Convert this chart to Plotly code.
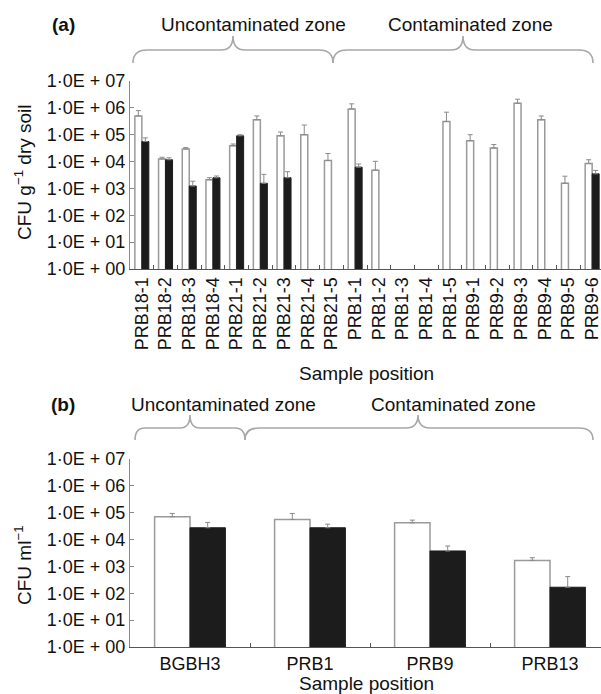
import plotly.graph_objects as go

W, H = 601, 694

# ---------------- data: panel (a) ----------------
samples_a = ["PRB18-1", "PRB18-2", "PRB18-3", "PRB18-4", "PRB21-1", "PRB21-2",
             "PRB21-3", "PRB21-4", "PRB21-5", "PRB1-1", "PRB1-2", "PRB1-3",
             "PRB1-4", "PRB1-5", "PRB9-1", "PRB9-2", "PRB9-3", "PRB9-4",
             "PRB9-5", "PRB9-6"]
white_a = [5.0e5, 1.26e4, 2.95e4, 2.1e3, 3.9e4, 3.6e5, 9.1e4, 1.0e5, 1.1e4,
           9.1e5, 4.8e3, None, None, 3.1e5, 6.0e4, 3.2e4, 1.48e6, 3.6e5,
           1.55e3, 8.5e3]
white_a_err = [2.9e5, 1.9e3, 3.6e3, 4e2, 6e3, 1.4e5, 3.5e4, 1.3e5, 9e3,
               5e5, 5.4e3, None, None, 3.8e5, 4e4, 1.1e4, 6.2e5, 1.4e5,
               1.3e3, 3.2e3]
black_a = [5.6e4, 1.17e4, 1.23e3, 2.5e3, 9.1e4, 1.55e3, 2.5e3, None, None,
           6.2e3, None, None, None, None, None, None, None, None, None, 3.5e3]
black_a_err = [2.0e4, 2.1e3, 6.3e2, 4e2, 9e3, 1.8e3, 1.7e3, None, None,
               1.9e3, None, None, None, None, None, None, None, None, None, 1.2e3]

# ---------------- data: panel (b) ----------------
samples_b = ["BGBH3", "PRB1", "PRB9", "PRB13"]
white_b = [7.1e4, 5.6e4, 4.2e4, 1.68e3]
white_b_err = [2.3e4, 3.8e4, 1.1e4, 4.3e2]
black_b = [2.75e4, 2.75e4, 3.76e3, 1.68e2]
black_b_err = [1.6e4, 1.0e4, 2.0e3, 2.5e2]

tick_vals = [1, 1e1, 1e2, 1e3, 1e4, 1e5, 1e6, 1e7]
tick_text = ["1·0E + 00", "1·0E + 01", "1·0E + 02", "1·0E + 03",
             "1·0E + 04", "1·0E + 05", "1·0E + 06", "1·0E + 07"]

FONT = "Liberation Sans, Arial, Helvetica, sans-serif"
WHITE_LINE = "#9a9a9a"
BLACK = "#1c1c1c"


def err(arr):
    return dict(type="data", symmetric=False, array=arr,
                arrayminus=[0] * len(arr), color="#8a8a8a",
                thickness=1, width=2.5)


fig = go.Figure()
fig.add_trace(go.Bar(x=samples_a, y=white_a, error_y=err(white_a_err),
                     marker=dict(color="white", line=dict(color=WHITE_LINE, width=1.5)),
                     xaxis="x", yaxis="y"))
fig.add_trace(go.Bar(x=samples_a, y=black_a, error_y=err(black_a_err),
                     marker=dict(color=BLACK, line=dict(color=BLACK, width=1)),
                     xaxis="x", yaxis="y"))
fig.add_trace(go.Bar(x=samples_b, y=white_b, error_y=err(white_b_err),
                     marker=dict(color="white", line=dict(color=WHITE_LINE, width=1.5)),
                     xaxis="x2", yaxis="y2"))
fig.add_trace(go.Bar(x=samples_b, y=black_b, error_y=err(black_b_err),
                     marker=dict(color=BLACK, line=dict(color=BLACK, width=1)),
                     xaxis="x2", yaxis="y2"))


def py(y):
    return 1 - y / H


def px(x):
    return x / W


x_left = 130
n_a = len(samples_a)
cw_a = 23.7
cw_b = 120.0
xa_range = [-0.5, n_a - 0.5 - (x_left + n_a * cw_a - W) / cw_a]
xb_range = [-0.5, len(samples_b) - 0.5 - (x_left + len(samples_b) * cw_b - W) / cw_b]

common_x = dict(type="category", tickson="boundaries", ticks="inside", ticklen=4,
                tickcolor="#555", showline=True, linecolor="#555", linewidth=1.2,
                showgrid=False, zeroline=False, automargin=False,
                tickfont=dict(size=18, color="#111"))
common_y = dict(type="log", range=[0, 7], tickvals=tick_vals, ticktext=tick_text,
                ticks="inside", ticklen=4, tickcolor="#888", showline=True,
                linecolor="#888", linewidth=1.2, showgrid=False, zeroline=False,
                automargin=False, tickfont=dict(size=18, color="#111"))

fig.update_layout(
    width=W, height=H, margin=dict(l=0, r=0, t=0, b=0, pad=0, autoexpand=False),
    plot_bgcolor="white", paper_bgcolor="white", showlegend=False,
    barmode="group", bargap=0.41, bargroupgap=0,
    font=dict(family=FONT, size=18, color="#111"),
    xaxis=dict(domain=[px(x_left), 1], range=xa_range, anchor="y",
               tickangle=-90, **common_x),
    yaxis=dict(domain=[py(269), py(81)], anchor="x", **common_y),
    xaxis2=dict(domain=[px(x_left), 1], range=xb_range, anchor="y2", **common_x),
    yaxis2=dict(domain=[py(647), py(459)], anchor="x2", **common_y),
)


def ann(x, y, text, size=18, angle=0, bold=False):
    if bold:
        text = "<b>" + text + "</b>"
    return dict(xref="paper", yref="paper", x=px(x), y=py(y), text=text,
                showarrow=False, xanchor="center", yanchor="middle",
                textangle=angle, font=dict(size=size, family=FONT, color="#111"))


annotations = [
    ann(63, 25, "(a)", 19, bold=True),
    ann(253, 25, "Uncontaminated zone", 19),
    ann(470, 25, "Contaminated zone", 19),
    ann(366, 373, "Sample position", 19),
    ann(23, 172, "CFU g<sup>−1</sup> dry soil", 19, angle=-90),
    ann(63, 404, "(b)", 19, bold=True),
    ann(223, 404, "Uncontaminated zone", 19),
    ann(453, 404, "Contaminated zone", 19),
    ann(366, 683, "Sample position", 19),
    ann(23, 565, "CFU ml<sup>−1</sup>", 19, angle=-90),
]


def brace(x0, x1, xt, y_end, y_h, y_tip, r=14, rt=12):
    def p(x, y):
        return f"{px(x):.5f},{py(y):.5f}"
    path = (f"M {p(x0, y_end)} Q {p(x0, y_h)} {p(x0 + r, y_h)} "
            f"L {p(xt - rt, y_h)} Q {p(xt, y_h)} {p(xt, y_tip)} "
            f"Q {p(xt, y_h)} {p(xt + rt, y_h)} "
            f"L {p(x1 - r, y_h)} Q {p(x1, y_h)} {p(x1, y_end)}")
    return dict(type="path", xref="paper", yref="paper", path=path,
                line=dict(color="#a8a8a8", width=1.6))


shapes = [
    brace(133, 333, 233, 63, 50, 36),
    brace(333, 593, 463, 63, 50, 36),
    brace(135, 245, 190, 440, 428, 415, r=10, rt=10),
    brace(245, 593, 418, 440, 428, 415),
]

fig.update_layout(annotations=annotations, shapes=shapes)

fig.write_html("out.html",
               config={"displayModeBar": False},
               post_script="document.body.style.margin='0';"
                           "document.body.style.overflow='hidden';")
